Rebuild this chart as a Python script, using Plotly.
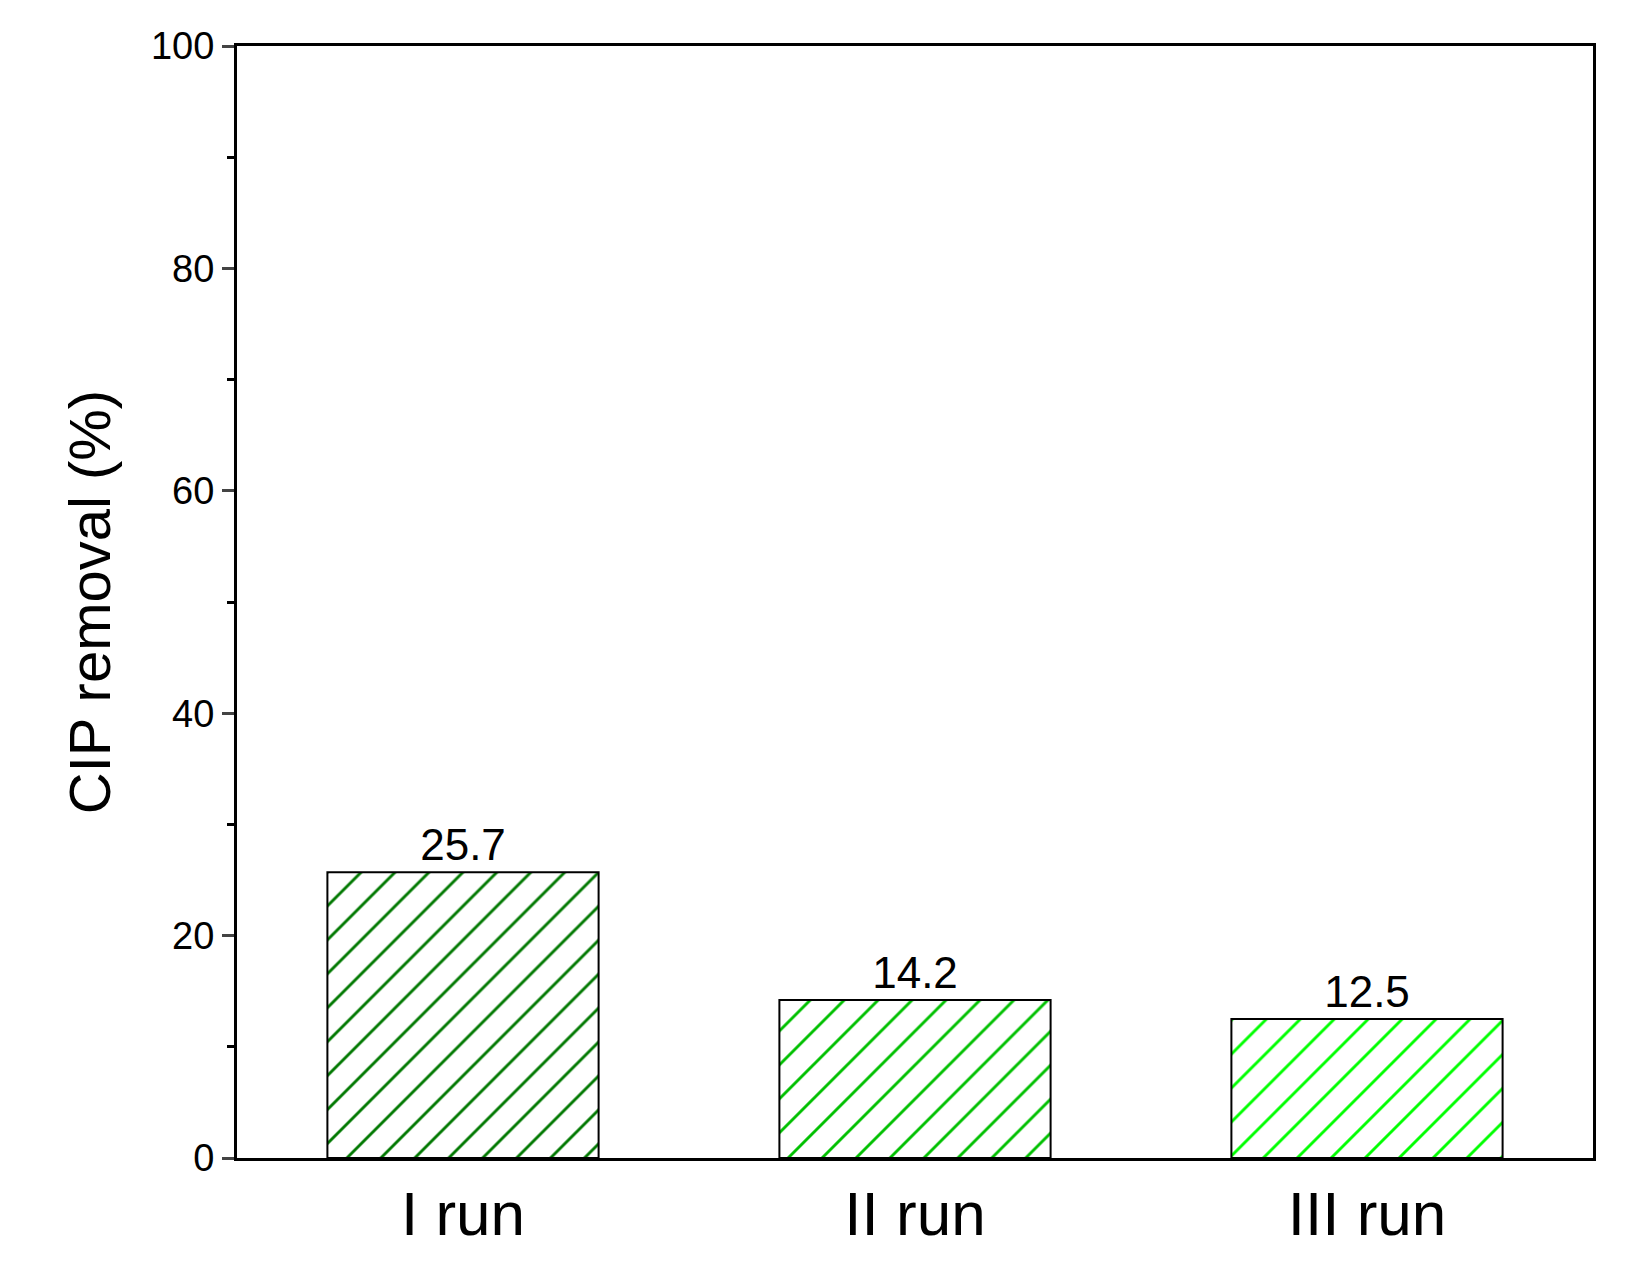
import plotly.graph_objects as go

runs = ["I run", "II run", "III run"]
removal = [25.7, 14.2, 12.5]
bar_colors = ["#007800", "#00c000", "#00ff00"]
labels = ["25.7", "14.2", "12.5"]

fig = go.Figure()
fig.add_trace(go.Bar(
    x=runs, y=removal, width=0.6,
    text=labels, textposition="outside",
    textfont=dict(size=44, color="black"),
    marker=dict(color=bar_colors, line=dict(color="black", width=2),
                pattern=dict(shape="/", fgcolor="black", fgopacity=1, bgcolor=bar_colors,
                             size=24, solidity=0.12, fillmode="replace")),
    cliponaxis=False,
))

fig.update_layout(
    width=1625, height=1272,
    paper_bgcolor="white", plot_bgcolor="white",
    font=dict(family="Liberation Sans, Arial", color="black"),
    margin=dict(l=229, r=40, t=38, b=122),
    showlegend=False,
)
fig.update_xaxes(
    range=[-0.5, 2.5], showline=True, linecolor="black", linewidth=3, mirror=True,
    ticks="", tickfont=dict(size=62), showgrid=False,
)
fig.update_yaxes(
    range=[0, 100], tickvals=[0, 20, 40, 60, 80, 100],
    showline=True, linecolor="black", linewidth=3, mirror=True,
    ticks="outside", ticklen=12, tickwidth=3, tickfont=dict(size=38),
    minor=dict(tickvals=[10, 30, 50, 70, 90], ticks="outside", ticklen=7, tickwidth=3, tickcolor="black"),
    showgrid=False, zeroline=False,
    title=dict(text="CIP removal (%)", font=dict(size=58), standoff=22),
)

fig.write_html("out.html")
